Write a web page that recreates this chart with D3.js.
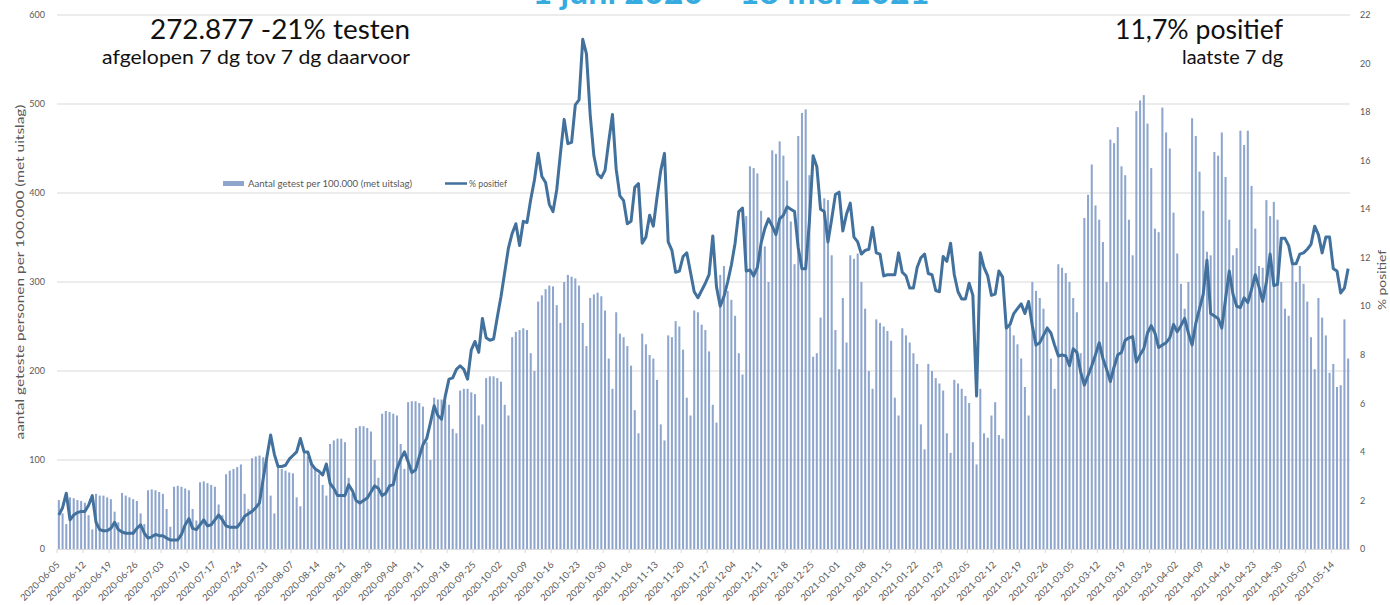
<!DOCTYPE html>
<html><head><meta charset="utf-8">
<script src="https://cdn.jsdelivr.net/npm/d3@7"></script>
<style>body{margin:0;background:#fff;overflow:hidden} svg{display:block}</style>
</head><body><svg id="c" width="1390" height="605"></svg>
<script>
const startDate = "2020-06-05";

// Aantal getest per 100.000 (met uitslag), one value per day from 2020-06-05
const tested = [
55,40,28,58,57,55,54, 52,38,22,62,60,60,58, 56,42,30,63,60,58,56, 54,40,28,66,67,66,64,
62,45,25,70,71,70,68, 66,45,32,75,76,74,72, 70,50,38,84,88,90,92, 95,62,45,102,104,105,103,
100,60,40,92,90,88,86, 85,58,48,108,104,98,90, 84,72,60,118,122,124,124, 120,80,62,136,138,138,136,
132,100,80,152,155,154,152, 150,118,90,165,166,166,164, 160,120,100,170,168,168,166, 162,135,130,178,180,180,176,
174,150,140,192,194,194,192, 188,162,150,238,244,246,248, 246,220,200,278,285,292,296, 295,274,254,300,308,306,304,
296,254,228,282,286,288,284, 268,214,180,266,242,238,228, 206,156,130,242,230,218,214, 190,140,122,240,238,256,250,
224,170,150,268,266,252,246, 222,162,142,308,318,290,280, 262,220,196,374,430,428,422, 380,340,300,448,444,458,442,
414,368,320,464,490,494,420, 216,220,260,394,392,330,246, 202,282,232,330,326,332,300, 270,200,180,258,254,250,245,
234,170,150,248,240,232,220, 208,140,112,208,200,192,186, 178,130,108,190,186,180,172, 164,120,95,180,130,125,150,
165,128,124,252,250,240,230, 214,182,150,300,290,282,270, 250,214,180,320,316,310,300, 282,266,220,372,398,432,386,
370,345,300,460,456,474,430, 420,370,330,492,504,510,478, 428,360,356,496,468,450,378, 332,298,270,300,484,464,424,
380,334,330,446,442,468,418, 370,330,338,470,454,470,408, 360,318,316,392,374,390,370, 300,270,262,326,300,318,298,
278,238,202,282,260,240,198, 208,182,184,258,214
];

// % positief, one value per day from 2020-06-05
const positive = [
1.4,1.7,2.3,1.2,1.4,1.5,1.55,1.55,1.8,2.2,
1.1,0.8,0.75,0.75,0.85,1.1,0.8,0.7,0.65,0.65,
0.65,0.85,1.0,0.65,0.45,0.5,0.6,0.55,0.55,0.45,
0.37,0.37,0.37,0.6,1.0,1.25,0.85,0.8,1.0,1.2,
0.95,1.0,1.2,1.4,1.2,0.95,0.9,0.9,0.9,1.1,
1.35,1.45,1.55,1.7,1.9,2.9,3.8,4.7,3.9,3.4,
3.4,3.45,3.7,3.85,4.0,4.55,4.0,4.0,3.5,3.3,
3.2,3.05,3.5,2.7,2.5,2.2,2.2,2.2,2.65,2.4,
2.0,1.9,2.0,2.1,2.35,2.6,2.5,2.2,2.3,2.6,
2.65,3.3,3.7,4.0,3.6,3.15,3.25,3.8,4.3,4.55,
5.2,5.9,5.5,5.35,6.3,7.0,7.05,7.4,7.55,7.4,
7.0,8.2,8.55,8.1,9.5,8.7,8.6,8.65,9.55,10.4,
11.4,12.4,13.0,13.4,12.5,13.5,13.45,14.4,15.2,16.3,
15.35,15.1,14.2,13.9,14.8,16.3,17.7,16.7,16.75,18.3,
18.5,21.0,20.4,17.9,16.2,15.45,15.3,15.6,16.8,17.9,
15.65,14.55,14.35,13.4,13.5,14.9,15.05,12.6,12.85,13.75,
13.3,14.5,15.6,16.3,12.65,12.3,11.4,11.45,12.05,12.2,
11.4,10.6,10.35,10.65,10.95,11.3,12.9,10.8,10.0,10.4,
11.0,11.7,12.6,13.9,14.05,11.45,11.5,11.25,11.6,12.6,
13.2,13.6,13.3,12.95,13.6,13.75,14.1,14.0,13.9,12.4,
11.55,11.55,13.5,16.2,15.75,14.0,13.9,12.65,13.6,14.6,
14.7,13.1,13.8,14.25,12.85,12.65,12.15,12.3,12.35,13.25,
12.2,12.15,11.25,11.3,11.3,11.3,12.2,11.4,11.25,10.75,
10.75,11.6,12.0,12.15,11.35,11.3,10.65,10.6,12.05,11.85,
12.6,11.3,10.6,10.3,10.3,10.95,10.45,6.3,12.2,11.6,
11.25,10.45,10.5,11.45,11.2,9.1,9.25,9.7,9.9,10.1,
9.7,10.2,9.2,8.4,8.5,8.8,9.1,8.9,8.4,7.95,
8.0,7.95,7.55,8.25,8.1,7.3,6.75,7.15,7.55,8.0,
8.5,7.85,7.4,6.9,7.5,8.0,8.1,8.6,8.7,8.75,
7.7,8.0,8.25,8.9,9.2,8.9,8.3,8.4,8.5,8.7,
9.25,8.95,9.2,9.5,8.9,8.4,9.3,9.9,10.5,11.9,
9.7,9.6,9.5,9.1,10.3,11.45,10.5,10.0,9.95,10.35,
10.15,10.7,11.3,10.8,10.2,11.0,12.15,10.85,10.9,12.8,
12.8,12.5,11.75,11.75,12.15,12.2,12.35,12.55,13.3,12.95,
12.2,12.85,12.85,11.55,11.45,10.55,10.75,11.55
];

const tickLabels = [
"2020-06-05","2020-06-12","2020-06-19","2020-06-26","2020-07-03","2020-07-10","2020-07-17","2020-07-24",
"2020-07-31","2020-08-07","2020-08-14","2020-08-21","2020-08-28","2020-09-04","2020-09-11","2020-09-18",
"2020-09-25","2020-10-02","2020-10-09","2020-10-16","2020-10-23","2020-10-30","2020-11-06","2020-11-13",
"2020-11-20","2020-11-27","2020-12-04","2020-12-11","2020-12-18","2020-12-25","2021-01-01","2021-01-08",
"2021-01-15","2021-01-22","2021-01-29","2021-02-05","2021-02-12","2021-02-19","2021-02-26","2021-03-05",
"2021-03-12","2021-03-19","2021-03-26","2021-04-02","2021-04-09","2021-04-16","2021-04-23","2021-04-30",
"2021-05-07","2021-05-14"
];
const leftTicks = [0,100,200,300,400,500,600];
const rightTicks = [0,2,4,6,8,10,12,14,16,18,20,22];

const parse = d3.timeParse("%Y-%m-%d"), fmt = d3.timeFormat("%Y-%m-%d");
const s0 = parse(startDate);
const days = d3.range(tested.length).map(i => fmt(d3.timeDay.offset(s0, i)));

const svg = d3.select("#c");
const FONT = "Lato, 'Open Sans', sans-serif";
const L = 57, R = 1350, T = 15, B = 549;

const x = d3.scaleBand().domain(days).range([L, R]).paddingInner(0.45).paddingOuter(0.225);
const yL = d3.scaleLinear().domain([0, 600]).range([B, T]);
const yR = d3.scaleLinear().domain([0, 22]).range([B, T]);

// gridlines
svg.append("g").selectAll("line").data(leftTicks.filter(d => d > 0)).join("line")
  .attr("x1", L).attr("x2", R).attr("y1", d => yL(d)).attr("y2", d => yL(d))
  .attr("stroke", "#d9d9d9").attr("stroke-width", 1);

// title (cut at the top, as in the source image)
svg.append("text").attr("x", 731).attr("y", 4).attr("text-anchor", "middle")
  .attr("font-family", FONT).attr("font-weight", "bold").attr("font-size", 34)
  .attr("fill", "#35abe0").text("1 juni 2020 – 18 mei 2021");

// bars
svg.append("g").selectAll("rect").data(tested).join("rect")
  .attr("x", (d, i) => x(days[i])).attr("width", x.bandwidth())
  .attr("y", d => yL(d)).attr("height", d => B - yL(d))
  .attr("fill", "#8ea6cd");

// x axis
const xAxis = svg.append("g").attr("transform", `translate(${-x.step()/2},${B})`)
  .call(d3.axisBottom(x).tickValues(tickLabels).tickSize(4).tickSizeOuter(0));
xAxis.select(".domain").remove();
xAxis.selectAll("line").attr("stroke", "#d9d9d9");
xAxis.selectAll("text").attr("font-family", FONT).attr("font-size", 9.5).attr("fill", "#595959")
  .attr("text-anchor", "end").attr("y", 0).attr("dy", "0.35em")
  .attr("transform", "translate(1,14) rotate(-45)");
svg.append("line").attr("x1", L).attr("x2", R).attr("y1", B + 0.5).attr("y2", B + 0.5)
  .attr("stroke", "#d9d9d9");

// left axis labels
svg.append("g").selectAll("text").data(leftTicks).join("text")
  .attr("x", 45).attr("y", d => yL(d)).attr("dy", "0.35em").attr("text-anchor", "end")
  .attr("font-family", FONT).attr("font-size", 9).attr("fill", "#595959").text(d => d);
// right axis labels
svg.append("g").selectAll("text").data(rightTicks).join("text")
  .attr("x", 1360).attr("y", d => yR(d)).attr("dy", "0.35em").attr("text-anchor", "start")
  .attr("font-family", FONT).attr("font-size", 9).attr("fill", "#595959").text(d => d);

// axis titles
svg.append("text").attr("transform", "translate(24,272) rotate(-90)").attr("text-anchor", "middle")
  .attr("font-family", FONT).attr("font-size", 12).attr("fill", "#595959")
  .attr("textLength", 335).attr("lengthAdjust", "spacingAndGlyphs")
  .text("aantal geteste personen per 100.000 (met uitslag)");
svg.append("text").attr("transform", "translate(1386,280) rotate(-90)").attr("text-anchor", "middle")
  .attr("font-family", FONT).attr("font-size", 12).attr("fill", "#595959")
  .attr("textLength", 60).attr("lengthAdjust", "spacingAndGlyphs")
  .text("% positief");

// line
const line = d3.line().x((d, i) => x(days[i]) + x.bandwidth()/2).y(d => yR(d));
svg.append("path").datum(positive).attr("d", line).attr("fill", "none")
  .attr("stroke", "#41719c").attr("stroke-width", 3).attr("stroke-linejoin", "round");

// legend
const lg = svg.append("g").attr("font-family", FONT).attr("font-size", 9.5).attr("fill", "#595959");
lg.append("rect").attr("x", 223).attr("y", 181).attr("width", 21).attr("height", 5).attr("fill", "#8ea6cd");
lg.append("text").attr("x", 248).attr("y", 187).attr("textLength", 164).attr("lengthAdjust", "spacingAndGlyphs")
  .text("Aantal getest per 100.000 (met uitslag)");
lg.append("line").attr("x1", 445).attr("x2", 467).attr("y1", 183.5).attr("y2", 183.5)
  .attr("stroke", "#41719c").attr("stroke-width", 2.5);
lg.append("text").attr("x", 469).attr("y", 187).attr("textLength", 38).attr("lengthAdjust", "spacingAndGlyphs")
  .text("% positief");

// headline annotations
const ann = [
  {t: "272.877 -21% testen", x: 410, y: 39, s: 27, w: 260},
  {t: "afgelopen 7 dg tov 7 dg daarvoor", x: 410, y: 64, s: 19.5, w: 308},
  {t: "11,7% positief", x: 1283, y: 39, s: 27, w: 168},
  {t: "laatste 7 dg", x: 1283, y: 64, s: 19.5, w: 101}
];
svg.append("g").selectAll("text").data(ann).join("text")
  .attr("x", d => d.x).attr("y", d => d.y).attr("text-anchor", "end")
  .attr("font-family", FONT).attr("font-size", d => d.s).attr("fill", "#111")
  .attr("textLength", d => d.w).attr("lengthAdjust", "spacingAndGlyphs")
  .text(d => d.t);
</script>
</body></html>
